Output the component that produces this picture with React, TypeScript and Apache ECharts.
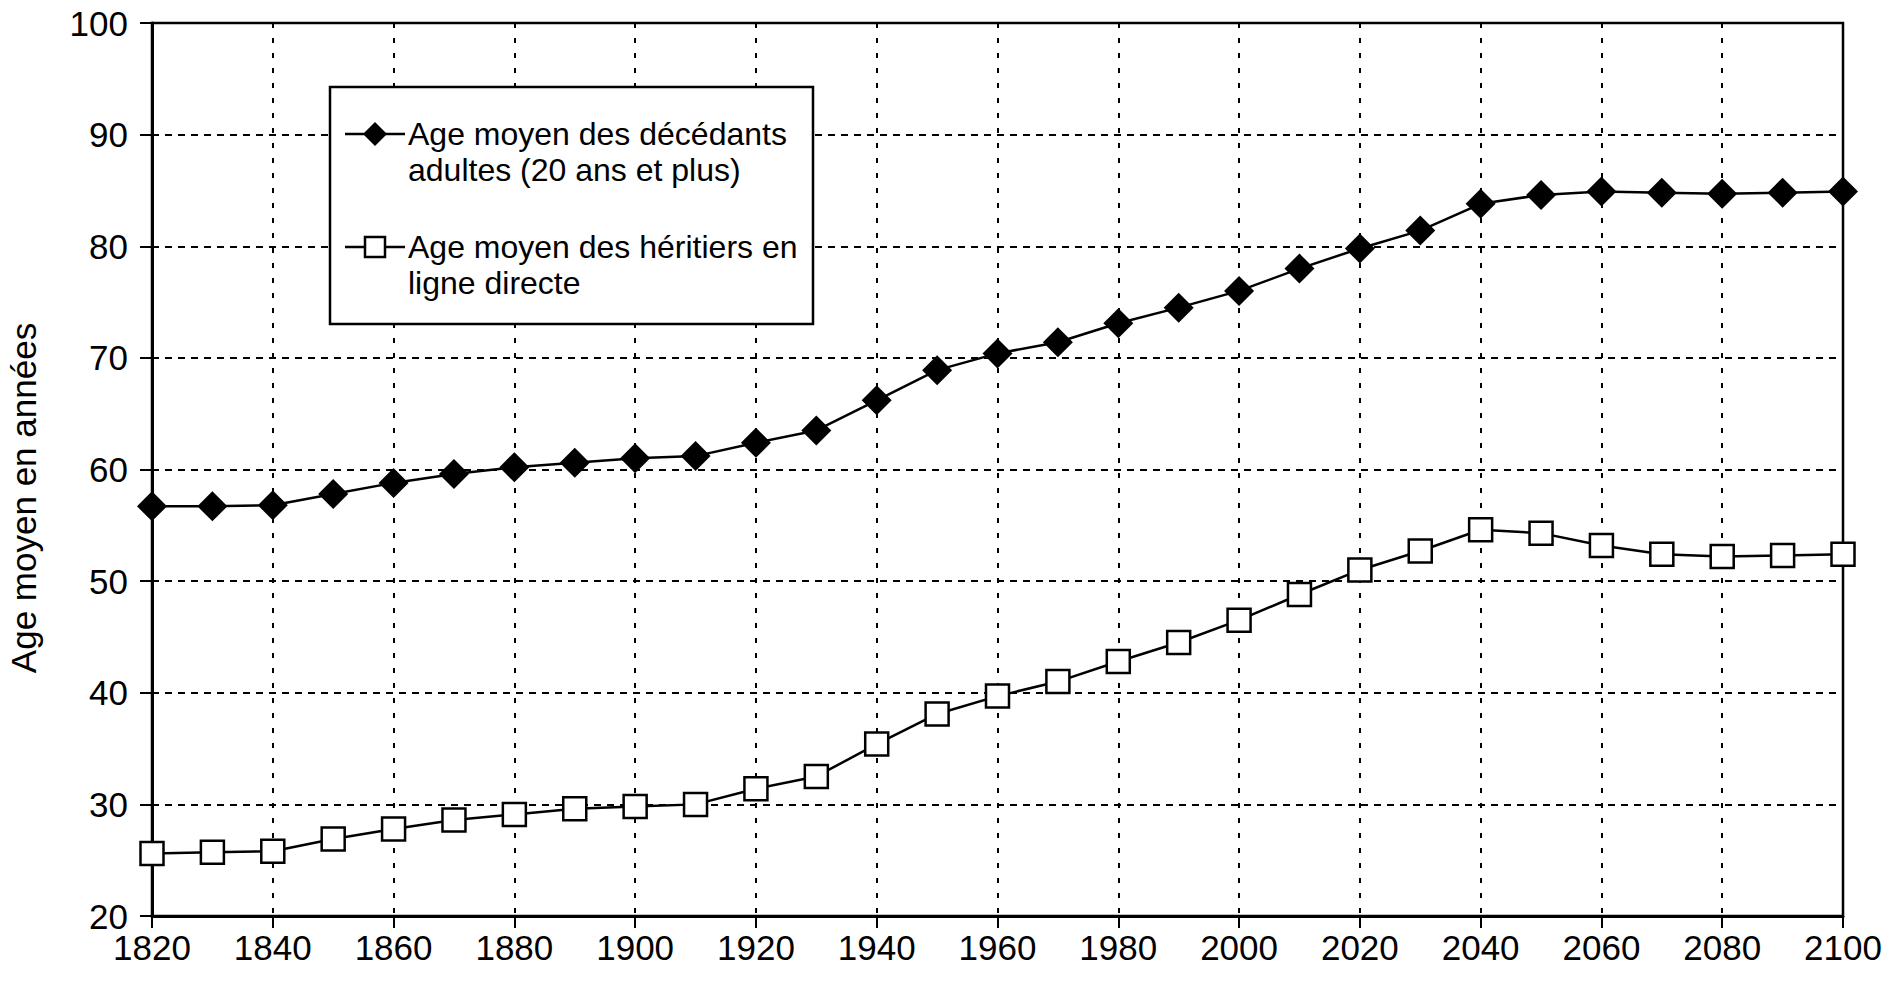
import React, { useEffect, useRef } from "react";
import * as echarts from "echarts";

const years = [1820, 1830, 1840, 1850, 1860, 1870, 1880, 1890, 1900, 1910, 1920, 1930, 1940, 1950, 1960, 1970, 1980, 1990, 2000, 2010, 2020, 2030, 2040, 2050, 2060, 2070, 2080, 2090, 2100];
const decedants = [56.7, 56.7, 56.8, 57.8, 58.8, 59.6, 60.2, 60.6, 61.0, 61.2, 62.4, 63.5, 66.2, 68.9, 70.4, 71.4, 73.1, 74.5, 76.0, 78.0, 79.8, 81.4, 83.8, 84.6, 84.9, 84.8, 84.7, 84.8, 84.9];
const heritiers = [25.6, 25.7, 25.8, 26.9, 27.8, 28.6, 29.1, 29.6, 29.8, 30.0, 31.4, 32.5, 35.4, 38.1, 39.7, 41.0, 42.8, 44.5, 46.5, 48.8, 51.0, 52.7, 54.6, 54.3, 53.2, 52.4, 52.2, 52.3, 52.4];
const legendLines1 = ["Age moyen des décédants", "adultes (20 ans et plus)"];
const legendLines2 = ["Age moyen des héritiers en", "ligne directe"];
const seriesNames = [legendLines1.join(" "), legendLines2.join(" ")];
const yTitle = "Age moyen en années";

const FONT = '"Liberation Sans", Arial, sans-serif';

export default function App() {
  const ref = useRef<HTMLDivElement>(null);
  useEffect(() => {
    document.body.style.margin = "0";
    document.body.style.overflow = "hidden";
    const chart = echarts.init(ref.current!, null, { renderer: "svg" });
    const L = { x: 330, y: 87, w: 483, h: 237 };
    const y1 = 134;
    const y2 = 247;
    const LH = 36;
    const FS = 32;
    const legendText = (lines: string[], yc: number) =>
      lines.map((t, k) => ({
        type: "text", z: 101, x: 408, y: yc + k * LH,
        style: { text: t, fontSize: FS, fontFamily: FONT, fill: "#000", textVerticalAlign: "middle" },
      }));
    chart.setOption({
      animation: false,
      backgroundColor: "#fff",
      grid: { left: 152, right: 60, top: 23, bottom: 70, show: true, borderColor: "#000", borderWidth: 2.5 },
      xAxis: {
        type: "value", min: 1820, max: 2100, interval: 20,
        axisLine: { show: true, lineStyle: { color: "#000", width: 3 } },
        axisTick: { show: true, inside: false, length: 12, lineStyle: { color: "#000", width: 2 } },
        axisLabel: { color: "#000", fontSize: 35, fontFamily: FONT, margin: 14, formatter: (v: number) => String(v) },
        splitLine: { show: true, lineStyle: { color: "#000", width: 2, type: [5, 10] } },
      },
      yAxis: {
        type: "value", min: 20, max: 100, interval: 10,
        axisLine: { show: true, lineStyle: { color: "#000", width: 3 } },
        axisTick: { show: true, inside: false, length: 12, lineStyle: { color: "#000", width: 2 } },
        axisLabel: { color: "#000", fontSize: 35, fontFamily: FONT, margin: 24 },
        splitLine: { show: true, lineStyle: { color: "#000", width: 2, type: [7, 6] } },
      },
      series: [
        {
          name: seriesNames[0], type: "line",
          data: years.map((y, i) => [y, decedants[i]]),
          symbol: "diamond", symbolSize: 30,
          itemStyle: { color: "#000" },
          lineStyle: { color: "#000", width: 2.5 },
          z: 3,
        },
        {
          name: seriesNames[1], type: "line",
          data: years.map((y, i) => [y, heritiers[i]]),
          symbol: "rect", symbolSize: 23,
          itemStyle: { color: "#fff", borderColor: "#000", borderWidth: 2.5 },
          lineStyle: { color: "#000", width: 2.5 },
          z: 3,
        },
      ],
      graphic: [
        {
          type: "text", x: 23, y: 498, rotation: Math.PI / 2,
          style: { text: yTitle, fontSize: 35, fontFamily: FONT, fill: "#000", textAlign: "center", textVerticalAlign: "middle" },
        },
        { type: "rect", z: 100, shape: { x: L.x, y: L.y, width: L.w, height: L.h }, style: { fill: "#fff", stroke: "#000", lineWidth: 2.5 } },
        { type: "line", z: 101, shape: { x1: 345, y1: y1, x2: 405, y2: y1 }, style: { stroke: "#000", lineWidth: 2.5 } },
        { type: "polygon", z: 102, shape: { points: [[375, y1 - 12], [387, y1], [375, y1 + 12], [363, y1]] }, style: { fill: "#000" } },
        ...legendText(legendLines1, y1),
        { type: "line", z: 101, shape: { x1: 345, y1: y2, x2: 405, y2: y2 }, style: { stroke: "#000", lineWidth: 2.5 } },
        { type: "rect", z: 102, shape: { x: 365, y: y2 - 10, width: 20, height: 20 }, style: { fill: "#fff", stroke: "#000", lineWidth: 2.5 } },
        ...legendText(legendLines2, y2),
      ],
    });
    return () => chart.dispose();
  }, []);
  return <div ref={ref} style={{ width: 1903, height: 986 }} />;
}
